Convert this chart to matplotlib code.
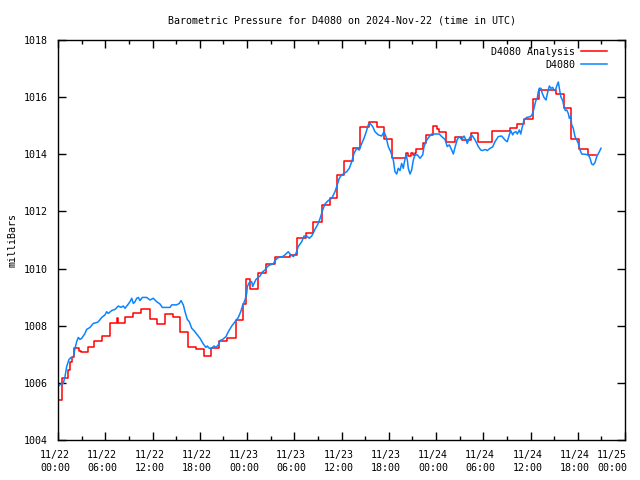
import matplotlib
matplotlib.use("Agg")
import matplotlib.pyplot as plt
from matplotlib.ticker import MultipleLocator, FixedLocator
from matplotlib.transforms import ScaledTranslation

# hours since 2024-11-22 00:00 UTC
analysis_hours = [0.0, 0.57, 1.27, 1.52, 1.78, 1.97, 2.67, 2.98, 3.75, 4.57, 5.65, 6.6, 7.43, 7.62,
                  8.57, 9.52, 10.6, 11.62, 12.57, 13.65, 14.54, 15.49, 16.5, 17.52, 18.6, 19.49,
                  20.5, 21.46, 22.54, 23.53, 23.85, 24.44, 25.4, 26.4, 27.5, 29.46, 30.41, 31.43,
                  32.44, 33.52, 34.48, 35.43, 36.38, 37.46, 38.41, 39.49, 40.47, 41.4, 42.41,
                  44.25, 44.5, 44.78, 45.07, 45.32, 45.46, 46.41, 46.67, 47.56, 48.13, 48.32,
                  49.33, 50.41, 51.26, 52.44, 53.33, 55.17, 57.4, 58.29, 59.17, 60.32, 61.12,
                  63.24, 64.25, 65.2, 66.16, 67.3, 68.3]
analysis_mb = [1005.39, 1006.16, 1006.45, 1006.73, 1006.90, 1007.21, 1007.12, 1007.07, 1007.24,
               1007.47, 1007.64, 1008.11, 1008.26, 1008.11, 1008.31, 1008.43, 1008.57, 1008.22,
               1008.06, 1008.41, 1008.31, 1007.79, 1007.24, 1007.17, 1006.94, 1007.21, 1007.45,
               1007.56, 1008.20, 1008.76, 1009.62, 1009.27, 1009.86, 1010.15, 1010.39, 1010.48,
               1011.06, 1011.23, 1011.64, 1012.23, 1012.48, 1013.28, 1013.77, 1014.21, 1014.95,
               1015.14, 1014.95, 1014.52, 1013.88, 1014.03, 1013.95, 1014.04, 1013.98, 1014.04,
               1014.19, 1014.38, 1014.68, 1014.99, 1014.90, 1014.77, 1014.42, 1014.59, 1014.50,
               1014.76, 1014.42, 1014.80, 1014.91, 1015.06, 1015.22, 1015.92, 1016.25, 1016.11,
               1015.61, 1014.52, 1014.19, 1013.96, 1013.96]

obs_hours = [0.04, 0.38, 0.67, 0.89, 1.10, 1.40, 1.65, 1.94, 2.16, 2.37, 2.58, 2.79, 3.01, 3.43,
             3.64, 4.06, 4.48, 4.91, 5.12, 5.55, 5.97, 6.18, 6.39, 6.82, 7.24, 7.66, 8.0, 8.29,
             8.51, 8.85, 9.14, 9.36, 9.56, 9.78, 9.99, 10.2, 10.41, 10.70, 11.26, 11.68, 12.10,
             12.53, 12.95, 13.24, 14.22, 14.44, 15.07, 15.40, 15.62, 15.91, 16.13, 16.42, 16.67,
             16.98, 17.27, 17.61, 18.03, 18.45, 18.79, 18.96, 19.21, 19.52, 19.81, 20.06, 20.36,
             20.57, 20.91, 21.33, 21.63, 22.06, 22.48, 22.90, 23.20, 23.45, 23.75, 23.96, 24.04,
             24.29, 24.60, 24.72, 24.89, 25.14, 25.43, 25.65, 25.99, 26.29, 26.58, 26.92, 27.34,
             27.56, 27.85, 28.19, 28.53, 28.83, 29.24, 29.55, 29.88, 30.22, 30.51, 30.95, 31.24,
             31.58, 31.91, 32.22, 32.63, 33.05, 33.36, 33.61, 33.90, 34.32, 34.76, 35.17, 35.39,
             35.72, 36.03, 36.32, 36.66, 36.99, 37.30, 37.59, 37.93, 38.26, 38.57, 38.86, 39.11,
             39.40, 39.62, 39.96, 40.25, 40.67, 41.10, 41.40, 41.65, 41.94, 42.25, 42.58, 42.79,
             43.01, 43.21, 43.43, 43.64, 43.85, 43.97, 44.19, 44.36, 44.48, 44.70, 44.91, 45.12,
             45.33, 45.63, 45.97, 46.31, 46.48, 46.82, 47.15, 47.45, 48.42, 48.72, 49.14, 49.43,
             49.69, 49.99, 50.20, 50.41, 50.70, 50.96, 51.26, 51.56, 51.81, 51.97, 52.23, 52.53,
             52.83, 53.08, 53.37, 53.68, 53.93, 54.22, 54.51, 54.86, 55.20, 55.49, 55.91, 56.34,
             56.76, 57.05, 57.31, 57.49, 57.74, 57.90, 58.16, 58.32, 58.58, 58.76, 58.92, 59.17,
             59.52, 60.03, 60.28, 60.44, 60.70, 60.86, 60.99, 61.12, 61.33, 61.50, 61.71, 61.97,
             62.13, 62.39, 62.60, 62.82, 63.02, 63.20, 63.33, 63.53, 63.66, 63.84, 64.09, 64.25,
             64.42, 64.60, 64.80, 64.93, 65.10, 65.23, 65.43, 65.65, 65.87, 66.07, 66.29, 66.50,
             66.92, 67.34, 67.56, 67.77, 67.97, 68.19, 68.41, 68.74, 68.95]
obs_mb = [1005.89, 1005.96, 1005.98, 1006.22, 1006.57, 1006.82, 1006.89, 1006.89, 1007.21, 1007.44,
          1007.59, 1007.52, 1007.56, 1007.73, 1007.87, 1007.94, 1008.08, 1008.11, 1008.14, 1008.29,
          1008.38, 1008.49, 1008.43, 1008.53, 1008.57, 1008.69, 1008.64, 1008.69, 1008.61, 1008.73,
          1008.84, 1008.96, 1008.78, 1008.84, 1008.96, 1008.99, 1008.88, 1008.99, 1008.99, 1008.90,
          1008.96, 1008.84, 1008.76, 1008.64, 1008.64, 1008.73, 1008.73, 1008.78, 1008.88, 1008.73,
          1008.49, 1008.22, 1008.14, 1007.91, 1007.83, 1007.71, 1007.56, 1007.36, 1007.24, 1007.29,
          1007.21, 1007.21, 1007.29, 1007.24, 1007.33, 1007.48, 1007.52, 1007.62, 1007.79, 1007.99,
          1008.14, 1008.29, 1008.49, 1008.71, 1008.90, 1009.13, 1009.37, 1009.51, 1009.54, 1009.37,
          1009.48, 1009.62, 1009.69, 1009.74, 1009.89, 1009.95, 1010.07, 1010.13, 1010.16, 1010.28,
          1010.36, 1010.41, 1010.42, 1010.48, 1010.59, 1010.48, 1010.42, 1010.53, 1010.77, 1010.94,
          1011.14, 1011.14, 1011.06, 1011.14, 1011.37, 1011.58, 1011.82, 1012.05, 1012.26, 1012.38,
          1012.46, 1012.69, 1012.87, 1013.16, 1013.28, 1013.33, 1013.39, 1013.51, 1013.74, 1014.03,
          1014.21, 1014.15, 1014.38, 1014.56, 1014.76, 1015.03, 1015.08, 1014.97, 1014.79, 1014.68,
          1014.64, 1014.79, 1014.62, 1014.27, 1014.09, 1013.80, 1013.39, 1013.31, 1013.51, 1013.43,
          1013.68, 1013.51, 1013.71, 1013.98, 1013.80, 1013.51, 1013.31, 1013.45, 1013.80, 1013.98,
          1013.98, 1013.86, 1013.98, 1014.27, 1014.50, 1014.62, 1014.71, 1014.71, 1014.62, 1014.52,
          1014.27, 1014.33, 1014.15, 1014.01, 1014.24, 1014.52, 1014.62, 1014.52, 1014.64, 1014.50,
          1014.38, 1014.56, 1014.68, 1014.56, 1014.44, 1014.27, 1014.15, 1014.13, 1014.17, 1014.13,
          1014.21, 1014.26, 1014.44, 1014.62, 1014.64, 1014.50, 1014.44, 1014.68, 1014.83, 1014.68,
          1014.76, 1014.79, 1014.71, 1014.85, 1014.71, 1014.91, 1015.20, 1015.29, 1015.32, 1015.43,
          1015.61, 1015.90, 1015.96, 1016.19, 1016.31, 1016.31, 1016.13, 1015.99, 1015.90, 1016.11,
          1016.39, 1016.31, 1016.34, 1016.23, 1016.27, 1016.39, 1016.53, 1016.31, 1016.02, 1015.88,
          1015.67, 1015.53, 1015.55, 1015.43, 1015.26, 1015.32, 1015.03, 1014.91, 1014.62, 1014.50,
          1014.38, 1014.15, 1014.01, 1014.00, 1013.98, 1013.86, 1013.66, 1013.63, 1013.71, 1013.92,
          1014.09, 1014.21]

tick_hours = [0, 6, 12, 18, 24, 30, 36, 42, 48, 54, 60, 66, 72]
tick_labels = ["11/22\n00:00", "11/22\n06:00", "11/22\n12:00", "11/22\n18:00",
               "11/23\n00:00", "11/23\n06:00", "11/23\n12:00", "11/23\n18:00",
               "11/24\n00:00", "11/24\n06:00", "11/24\n12:00", "11/24\n18:00",
               "11/25\n00:00"]

plt.rcParams['font.family'] = ['DejaVu Sans Mono']
fig = plt.figure(figsize=(6.4, 4.8), dpi=100)
ax = fig.add_axes([58/640, 40/480, (625-58)/640, 400/480])

ax.plot(analysis_hours, analysis_mb, drawstyle='steps-post', color='#ff0000', lw=1.1,
        label='D4080 Analysis')
ax.plot(obs_hours, obs_mb, color='#0a84ff', lw=1.1, label='D4080')

ax.set_xlim(0, 72)
ax.set_ylim(1004, 1018)
ax.xaxis.set_major_locator(FixedLocator(tick_hours))
ax.set_xticklabels(tick_labels, linespacing=1.45)
ax.xaxis.set_minor_locator(MultipleLocator(3))
ax.yaxis.set_major_locator(MultipleLocator(2))
ax.tick_params(axis='both', which='major', direction='in', length=6, width=1,
               top=True, right=True, labelsize=7.2)
ax.tick_params(axis='x', which='major', pad=7)
ax.tick_params(axis='y', which='major', pad=7)
ax.tick_params(axis='x', which='minor', direction='in', length=3, width=1, top=True)
for s in ax.spines.values():
    s.set_linewidth(1)

# shift labels slightly left as in the reference; last label kept inside the canvas
for i, lab in enumerate(ax.get_xticklabels()):
    dx = -3 if i < len(tick_hours) - 1 else -13
    lab.set_transform(lab.get_transform() + ScaledTranslation(dx / 100, 0, fig.dpi_scale_trans))

ax.set_ylabel('milliBars', fontsize=7.2, labelpad=5)
ax.set_title('Barometric Pressure for D4080 on 2024-Nov-22 (time in UTC)', fontsize=7.2, pad=12)

ax.legend(loc='upper right', frameon=False, markerfirst=False, fontsize=7.2,
          handlelength=2.6, borderaxespad=0.3, labelspacing=0.3, handletextpad=0.6,
          bbox_to_anchor=(1.0 - 11/567, 1.0))

fig.savefig('out.png', dpi=100)
